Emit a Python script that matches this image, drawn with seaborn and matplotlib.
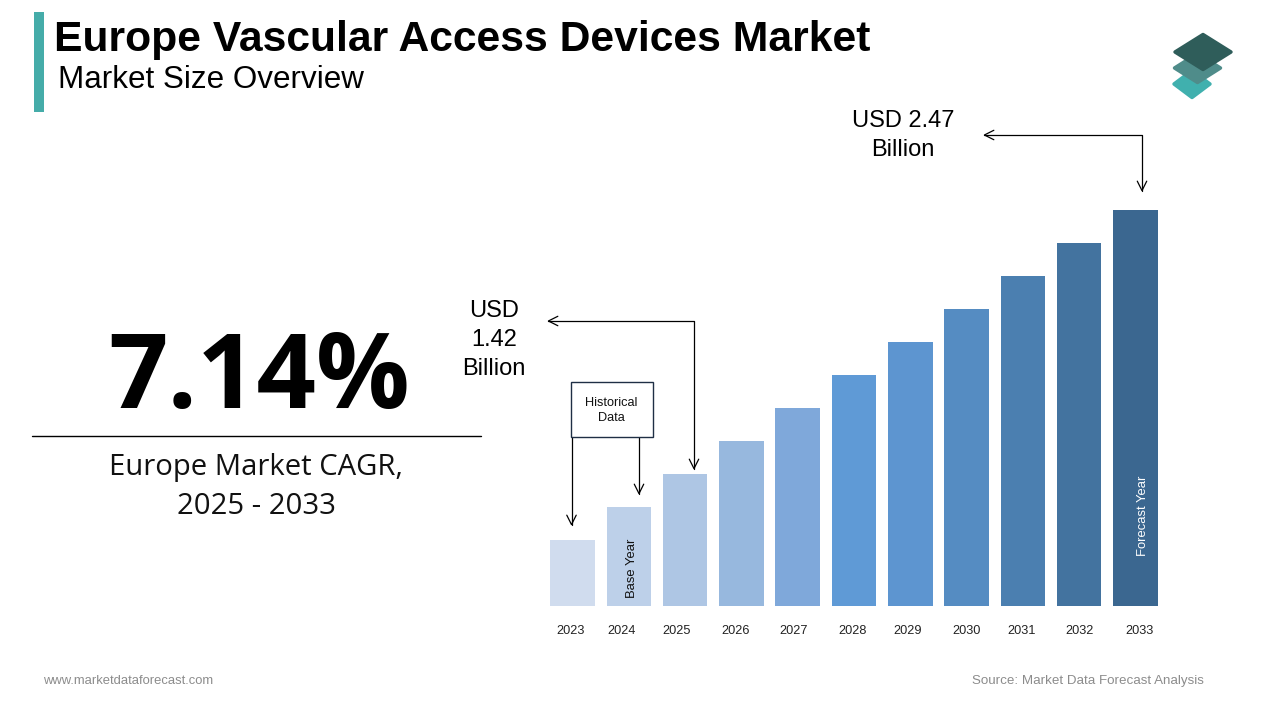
"""Europe Vascular Access Devices Market - market size overview"""
import matplotlib.pyplot as plt
from matplotlib.patches import FancyArrowPatch, Polygon, Rectangle
from matplotlib.path import Path
import pandas as pd
import seaborn as sns

years = ["2023", "2024", "2025", "2026", "2027", "2028", "2029", "2030", "2031", "2032", "2033"]
# USD billion, only 2025 and 2033 are printed on the chart
market_size = [1.158, 1.289, 1.42, 1.551, 1.683, 1.814, 1.945, 2.076, 2.208, 2.339, 2.47]
bar_colors = ["#D0DCEE", "#BDD0E9", "#AEC6E4", "#97B8DE", "#7FA8DA", "#5F9AD6",
              "#5D95D0", "#558CC2", "#4B7FB0", "#43739F", "#3B6790"]
# the year labels do not sit quite under their bars in the original
year_label_px = [571, 622, 677, 736, 794, 853, 908, 967, 1022, 1080, 1139]

sns.set_theme(style="white")
plt.rcParams["font.family"] = ["Liberation Sans", "DejaVu Sans"]

fig = plt.figure(figsize=(12.8, 7.2), dpi=100, facecolor="white")


def px_rect(left, top, right, bottom):
    return [left / 1280, 1 - bottom / 720, (right - left) / 1280, (bottom - top) / 720]


# bar chart, axes cover one slot either side of the bars
ax = fig.add_axes(px_rect(544.35, 210, 1163.65, 606))
df = pd.DataFrame({"year": years, "size": market_size})
sns.barplot(data=df, x="year", y="size", hue="year", palette=bar_colors, legend=False,
            width=0.79, saturation=1, linewidth=0, ax=ax)
ax.set_xlim(-0.5, 10.5)
ax.set_ylim(0.895, 2.47)
ax.set_xlabel("")
ax.set_ylabel("")
ax.set_yticks([])
ax.set_xticks([(p - 572.5) / 56.3 for p in year_label_px], years)
ax.tick_params(axis="x", length=0, pad=13.5, labelsize=9.2, labelcolor="#222222")
sns.despine(ax=ax, left=True, bottom=True)

# overlay in pixel coordinates for everything around the chart
over = fig.add_axes([0, 0, 1, 1], facecolor="none")
over.set_xlim(0, 1280)
over.set_ylim(720, 0)
over.axis("off")

over.add_patch(Rectangle((34, 12), 10, 100, color="#45ACA9", lw=0))
over.text(54, 39.5, "Europe Vascular Access Devices Market", fontsize=30.7, fontweight="bold",
          color="black", va="center", ha="left")
over.text(58, 80, "Market Size Overview", fontsize=22.6, color="black", va="center", ha="left")

# logo, thick round-joined edge gives the soft corners
for cx, cy, hw, hh, col in [(1192, 84, 18, 13.5, "#40B0AE"), (1197.5, 68, 23, 14.5, "#4F8C8A"),
                            (1203, 52, 28, 17.5, "#2F5D5A")]:
    over.add_patch(Polygon([(cx - hw, cy), (cx, cy - hh), (cx + hw, cy), (cx, cy + hh)],
                           closed=True, facecolor=col, edgecolor=col, lw=2.5, joinstyle="round"))

# left block
over.text(259, 381, "7.14%", fontsize=75, fontweight="bold", family="Open Sans",
          color="black", ha="center", va="center")
over.plot([32, 481], [436, 436], color="black", lw=1)
over.text(256, 468, "Europe Market CAGR,", fontsize=21.1, family="Open Sans", color="#111111",
          ha="center", va="center")
over.text(256, 507, "2025 - 2033", fontsize=21.1, family="Open Sans", color="#111111",
          ha="center", va="center")


def arrow(points, style="->"):
    over.add_patch(FancyArrowPatch(path=Path(points), arrowstyle=style, mutation_scale=17,
                                   color="black", lw=0.9, shrinkA=0, shrinkB=0))


# callouts
arrow([(983, 135), (1142, 135), (1142, 192)], "<->")
arrow([(547, 321), (694, 321), (694, 470)], "<->")
arrow([(571.5, 436), (571.5, 526)])
arrow([(639, 436), (639, 495)])
over.add_patch(Rectangle((570.5, 382), 82, 54.5, facecolor="white", edgecolor="#1F2F45", lw=1))
over.text(611, 403, "Historical", fontsize=9.2, color="#111111", ha="center", va="center")
over.text(611, 418, "Data", fontsize=9.2, color="#111111", ha="center", va="center")

for y, txt in [(121, "USD 2.47"), (150, "Billion")]:
    over.text(903, y, txt, fontsize=17, color="black", ha="center", va="center")
for y, txt in [(311, "USD"), (340, "1.42"), (369, "Billion")]:
    over.text(494, y, txt, fontsize=17, color="black", ha="center", va="center")

over.text(632, 568, "Base Year", fontsize=9.4, color="#111111", rotation=90, ha="center", va="center")
over.text(1143, 516, "Forecast Year", fontsize=9.4, color="white", rotation=90, ha="center", va="center")

# footer
over.text(43, 681, "www.marketdataforecast.com", fontsize=9.4, color="#8C8C8C", ha="left", va="center")
over.text(1204, 681, "Source: Market Data Forecast Analysis", fontsize=9.63, color="#8C8C8C",
          ha="right", va="center")

fig.savefig("out.png", dpi=100)
plt.close(fig)
